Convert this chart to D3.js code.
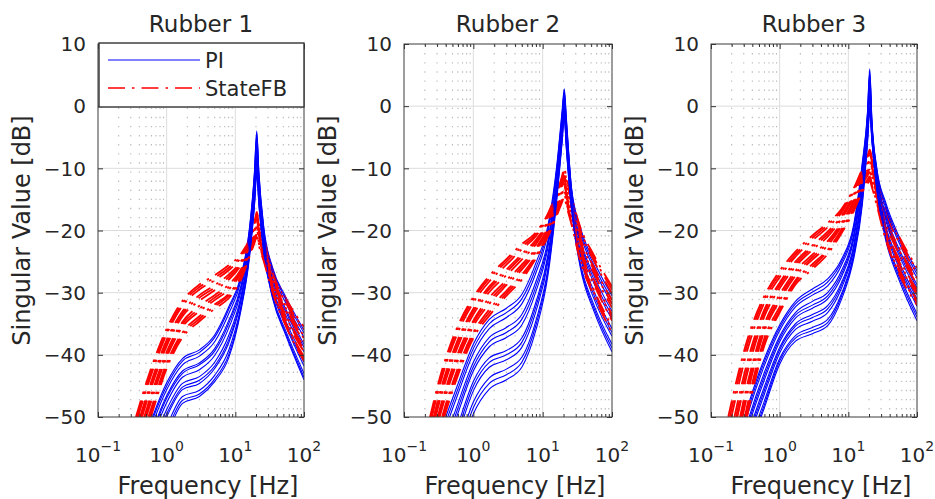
<!DOCTYPE html>
<html>
<head>
<meta charset="utf-8">
<script src="https://cdn.jsdelivr.net/npm/d3@7"></script>
<style>
  body { margin: 0; background: #fff; }
  text { font-family: "DejaVu Sans", sans-serif; fill: #262626; }
</style>
</head>
<body>
<svg id="chart" width="935" height="499"></svg>
<script>
// Frequency samples [Hz] shared by every response curve
const freqHz = [0.1, 0.2, 0.35, 0.6, 1, 1.7, 3, 5, 8, 12, 16, 19, 20.5, 22, 26, 35, 55, 100];

const rubberTitles = ["Rubber 1", "Rubber 2", "Rubber 3"];
const legendLabels = ["PI", "StateFB"];
const xTickExponents = [-1, 0, 1, 2];
const yTickValues = [-50, -40, -30, -20, -10, 0, 10];

// Singular values [dB], one row per operating condition
const rubber1PI = [
  [-80.0, -68.0, -58.5, -50.5, -44.5, -40.6, -39.2, -36.8, -32.3, -27.4, -19.8, -10.5, -4.0, -10.5, -19.5, -26.0, -30.8, -36.0],
  [-80.4, -68.3, -58.9, -50.9, -45.0, -41.0, -39.6, -37.2, -32.7, -27.7, -20.0, -10.8, -4.4, -10.8, -19.8, -26.3, -31.2, -36.5],
  [-81.0, -69.0, -59.5, -51.6, -45.6, -41.6, -40.2, -37.9, -33.4, -28.2, -20.5, -11.4, -5.0, -11.3, -20.2, -26.8, -31.8, -37.2],
  [-82.0, -70.0, -60.6, -52.7, -46.6, -42.6, -41.3, -39.0, -34.5, -29.0, -21.2, -12.3, -6.0, -12.2, -20.9, -27.7, -32.8, -38.3],
  [-82.3, -70.6, -61.0, -53.1, -47.0, -43.0, -41.6, -39.4, -35.0, -29.4, -21.5, -12.6, -6.4, -12.5, -21.1, -28.0, -33.2, -38.8],
  [-82.5, -71.0, -61.6, -53.8, -47.7, -43.6, -42.4, -40.1, -35.7, -29.9, -21.9, -13.1, -7.0, -13.0, -21.5, -28.5, -33.8, -39.5],
  [-83.0, -72.0, -62.6, -54.9, -48.8, -44.6, -43.5, -41.2, -36.9, -30.7, -22.6, -13.9, -8.0, -13.8, -22.1, -29.2, -34.7, -40.6],
  [-83.6, -72.6, -63.3, -55.6, -49.5, -45.2, -44.1, -41.8, -37.6, -31.2, -23.0, -14.4, -8.6, -14.3, -22.4, -29.6, -35.2, -41.2],
  [-84.0, -73.0, -63.7, -56.0, -50.0, -45.6, -44.6, -42.2, -38.1, -31.5, -23.3, -14.7, -9.0, -14.6, -22.7, -29.9, -35.5, -41.8],
  [-84.5, -74.0, -64.8, -57.2, -51.5, -46.7, -45.7, -43.3, -39.3, -32.3, -23.9, -15.4, -10.0, -15.2, -23.2, -30.5, -36.3, -43.0],
  [-84.8, -74.6, -65.5, -58.0, -52.3, -47.3, -46.3, -43.9, -40.0, -32.7, -24.2, -15.7, -10.5, -15.5, -23.4, -30.8, -36.7, -43.6],
  [-85.0, -75.0, -66.0, -58.5, -53.0, -47.8, -46.7, -44.3, -40.5, -33.0, -24.5, -16.0, -11.0, -15.8, -23.6, -31.0, -37.0, -44.0]
];
const rubber1StateFB = [
  [-72.0, -60.0, -50.3, -42.0, -35.8, -31.3, -28.7, -27.2, -25.6, -23.8, -21.4, -18.8, -17.0, -18.6, -21.2, -26.5, -31.0, -35.5],
  [-72.6, -60.5, -50.9, -42.6, -36.3, -31.7, -29.1, -27.6, -26.0, -24.1, -21.6, -19.0, -17.3, -18.8, -21.5, -26.8, -31.4, -35.9],
  [-73.2, -61.0, -51.4, -43.1, -36.7, -32.1, -29.5, -28.0, -26.4, -24.4, -21.9, -19.3, -17.6, -19.1, -21.8, -27.0, -31.7, -36.3],
  [-74.4, -62.0, -52.5, -44.2, -37.6, -33.0, -30.4, -28.8, -27.1, -25.0, -22.3, -19.8, -18.2, -19.7, -22.3, -27.5, -32.3, -37.0],
  [-75.0, -62.5, -53.1, -44.7, -38.1, -33.4, -30.8, -29.2, -27.5, -25.3, -22.5, -20.0, -18.5, -19.9, -22.6, -27.7, -32.6, -37.4],
  [-75.6, -63.0, -53.6, -45.2, -38.6, -33.8, -31.3, -29.6, -27.9, -25.6, -22.7, -20.2, -18.8, -20.2, -22.9, -28.0, -33.0, -37.8],
  [-76.8, -64.0, -54.7, -46.3, -39.5, -34.7, -32.1, -30.4, -28.7, -26.3, -23.1, -20.7, -19.4, -20.8, -23.4, -28.6, -33.7, -38.7],
  [-77.4, -64.5, -55.2, -46.8, -40.0, -35.1, -32.6, -30.8, -29.1, -26.6, -23.3, -20.9, -19.7, -21.0, -23.7, -28.8, -34.0, -39.1],
  [-78.0, -65.0, -55.8, -47.4, -40.4, -35.5, -33.0, -31.2, -29.5, -26.9, -23.6, -21.1, -20.0, -21.3, -24.0, -29.1, -34.4, -39.5],
  [-79.5, -66.0, -56.9, -48.5, -41.3, -36.4, -33.8, -31.9, -30.2, -27.4, -24.0, -21.6, -20.5, -21.9, -24.5, -29.6, -35.0, -40.3],
  [-80.2, -66.5, -57.4, -49.1, -41.7, -36.8, -34.2, -32.2, -30.5, -27.7, -24.1, -21.8, -20.7, -22.1, -24.7, -29.8, -35.2, -40.6],
  [-81.0, -67.0, -58.0, -49.7, -42.2, -37.2, -34.6, -32.6, -30.9, -28.0, -24.3, -22.0, -21.0, -22.4, -25.0, -30.0, -35.5, -41.0]
];
const rubber2PI = [
  [-72.0, -62.0, -52.0, -44.7, -38.3, -34.3, -32.5, -30.3, -25.2, -19.0, -9.5, -1.0, 2.8, -2.0, -13.0, -19.5, -25.0, -30.5],
  [-73.0, -63.0, -52.9, -45.5, -39.0, -35.0, -33.2, -31.0, -26.0, -19.6, -9.9, -1.4, 2.4, -2.4, -13.2, -20.0, -25.6, -31.1],
  [-74.0, -64.0, -53.8, -46.3, -39.8, -35.8, -34.0, -31.8, -26.8, -20.2, -10.4, -1.8, 2.0, -2.8, -13.5, -20.5, -26.2, -31.8],
  [-76.5, -66.0, -55.5, -47.8, -41.2, -37.2, -35.6, -33.5, -28.2, -21.4, -11.3, -2.5, 1.3, -3.5, -14.0, -21.4, -27.3, -33.0],
  [-77.5, -67.0, -56.4, -48.6, -41.9, -37.9, -36.4, -34.3, -29.0, -21.9, -11.7, -2.9, 1.0, -3.8, -14.2, -21.8, -27.9, -33.7],
  [-78.5, -68.0, -57.3, -49.4, -42.6, -38.7, -37.2, -35.2, -29.8, -22.5, -12.1, -3.2, 0.6, -4.2, -14.5, -22.3, -28.5, -34.3],
  [-81.0, -70.0, -59.5, -51.3, -44.3, -40.5, -39.3, -37.3, -31.5, -23.7, -12.8, -4.0, -0.1, -5.0, -15.0, -23.3, -29.8, -35.8],
  [-82.0, -71.0, -60.4, -52.1, -45.0, -41.2, -40.0, -38.0, -32.2, -24.2, -13.1, -4.3, -0.4, -5.3, -15.3, -23.8, -30.4, -36.4],
  [-83.0, -72.0, -61.4, -53.0, -45.8, -42.0, -40.8, -38.8, -33.0, -24.8, -13.5, -4.7, -0.8, -5.7, -15.6, -24.3, -31.0, -37.0],
  [-85.5, -74.5, -63.5, -54.8, -47.6, -43.7, -42.3, -40.4, -34.5, -25.9, -14.3, -5.4, -1.4, -6.4, -16.0, -25.2, -32.0, -38.3],
  [-86.5, -75.5, -64.7, -55.9, -48.5, -44.6, -43.2, -41.2, -35.2, -26.4, -14.6, -5.7, -1.7, -6.7, -16.3, -25.6, -32.5, -38.9],
  [-88.0, -77.0, -66.0, -57.0, -49.5, -45.5, -44.0, -42.0, -36.0, -27.0, -15.0, -6.0, -2.0, -7.0, -16.5, -26.0, -33.0, -39.5]
];
const rubber2StateFB = [
  [-68.0, -53.5, -42.6, -35.3, -30.7, -27.3, -24.6, -22.2, -20.3, -17.2, -13.8, -11.3, -10.0, -11.5, -14.5, -19.5, -24.0, -29.0],
  [-68.7, -54.1, -43.2, -35.8, -31.1, -27.7, -25.0, -22.6, -20.6, -17.4, -14.0, -11.6, -10.3, -11.8, -14.8, -19.9, -24.4, -29.5],
  [-69.5, -54.8, -43.8, -36.4, -31.6, -28.2, -25.5, -23.0, -20.9, -17.7, -14.3, -11.9, -10.6, -12.1, -15.1, -20.3, -24.9, -30.1],
  [-71.0, -56.0, -45.0, -37.5, -32.6, -29.0, -26.3, -23.8, -21.5, -18.3, -14.8, -12.5, -11.2, -12.7, -15.7, -21.2, -25.9, -31.2],
  [-72.0, -56.7, -45.6, -38.0, -33.0, -29.4, -26.7, -24.2, -21.8, -18.5, -15.0, -12.8, -11.5, -13.0, -16.0, -21.6, -26.4, -31.8],
  [-73.0, -57.5, -46.3, -38.6, -33.5, -29.9, -27.2, -24.7, -22.2, -18.8, -15.3, -13.1, -11.8, -13.3, -16.3, -22.0, -26.9, -32.4],
  [-74.5, -58.8, -47.6, -39.7, -34.5, -30.8, -28.0, -25.5, -22.8, -19.4, -15.9, -13.6, -12.5, -13.9, -17.0, -22.8, -27.9, -33.5],
  [-75.2, -59.4, -48.2, -40.3, -34.9, -31.3, -28.4, -25.9, -23.1, -19.6, -16.2, -13.9, -12.8, -14.2, -17.3, -23.2, -28.3, -34.0],
  [-76.0, -60.0, -48.8, -40.9, -35.4, -31.8, -28.8, -26.3, -23.4, -19.9, -16.5, -14.2, -13.2, -14.6, -17.6, -23.6, -28.7, -34.5],
  [-78.0, -61.5, -50.2, -42.1, -36.4, -32.7, -29.7, -27.1, -24.0, -20.4, -17.1, -14.9, -13.9, -15.3, -18.3, -24.3, -29.6, -35.5],
  [-79.0, -62.2, -50.8, -42.7, -36.8, -33.2, -30.1, -27.5, -24.2, -20.6, -17.3, -15.2, -14.2, -15.6, -18.6, -24.6, -30.0, -36.0],
  [-80.0, -63.0, -51.5, -43.3, -37.3, -33.7, -30.5, -27.9, -24.5, -20.9, -17.6, -15.5, -14.6, -16.0, -19.0, -25.0, -30.5, -36.5]
];
const rubber3PI = [
  [-70.0, -57.5, -48.0, -40.6, -35.2, -31.4, -29.4, -27.8, -24.6, -19.0, -9.0, -1.0, 6.0, -2.0, -10.0, -15.5, -21.0, -26.5],
  [-70.8, -58.2, -48.6, -41.1, -35.6, -31.8, -29.9, -28.3, -25.0, -19.4, -9.4, -1.3, 5.5, -2.3, -10.2, -15.9, -21.5, -27.0],
  [-71.5, -59.0, -49.2, -41.7, -36.1, -32.3, -30.4, -28.9, -25.5, -19.8, -9.9, -1.7, 5.0, -2.6, -10.5, -16.4, -22.0, -27.6],
  [-73.0, -60.5, -50.4, -42.8, -37.0, -33.2, -31.4, -30.0, -26.4, -20.6, -10.8, -2.4, 4.0, -3.1, -11.0, -17.3, -23.0, -28.7],
  [-73.8, -61.2, -51.0, -43.4, -37.4, -33.6, -32.0, -30.5, -26.9, -21.0, -11.3, -2.7, 3.5, -3.3, -11.3, -17.8, -23.5, -29.2],
  [-74.5, -62.0, -51.6, -44.0, -37.9, -34.1, -32.5, -31.0, -27.4, -21.4, -11.8, -3.1, 3.0, -3.6, -11.6, -18.3, -24.0, -29.8],
  [-76.0, -63.5, -52.8, -45.1, -38.8, -35.0, -33.5, -32.1, -28.3, -22.3, -12.8, -3.9, 2.0, -4.1, -12.2, -19.2, -25.0, -31.0],
  [-76.8, -64.0, -53.3, -45.7, -39.2, -35.4, -34.0, -32.6, -28.7, -22.7, -13.3, -4.2, 1.5, -4.3, -12.4, -19.6, -25.5, -31.6],
  [-77.5, -64.5, -53.9, -46.3, -39.7, -35.9, -34.6, -33.2, -29.2, -23.1, -13.8, -4.6, 1.0, -4.6, -12.7, -20.1, -26.0, -32.2],
  [-79.0, -66.0, -55.0, -47.4, -40.6, -36.9, -35.6, -34.3, -30.1, -23.8, -14.8, -5.3, 0.0, -5.1, -13.1, -20.8, -27.0, -33.4],
  [-79.5, -66.5, -55.5, -48.0, -41.0, -37.3, -36.1, -34.8, -30.5, -24.1, -15.3, -5.6, -0.5, -5.3, -13.3, -21.1, -27.5, -33.9],
  [-80.0, -67.0, -56.0, -48.5, -41.5, -37.8, -36.6, -35.3, -31.0, -24.5, -15.8, -6.0, -1.0, -5.5, -13.5, -21.5, -28.0, -34.5]
];
const rubber3StateFB = [
  [-64.0, -47.5, -37.0, -30.5, -26.5, -23.4, -20.8, -18.8, -16.5, -13.2, -10.0, -8.0, -7.0, -8.2, -11.5, -16.5, -21.0, -26.0],
  [-65.0, -48.6, -37.8, -31.0, -27.0, -23.8, -21.2, -19.1, -16.8, -13.4, -10.2, -8.3, -7.3, -8.5, -11.8, -16.9, -21.4, -26.4],
  [-66.0, -49.8, -38.7, -31.6, -27.5, -24.2, -21.6, -19.5, -17.1, -13.7, -10.5, -8.6, -7.7, -8.9, -12.1, -17.3, -21.9, -26.9],
  [-68.5, -52.0, -40.5, -32.7, -28.4, -25.0, -22.4, -20.2, -17.6, -14.2, -11.0, -9.2, -8.4, -9.6, -12.7, -18.1, -22.8, -27.7],
  [-69.5, -53.2, -41.4, -33.2, -28.8, -25.4, -22.7, -20.6, -17.8, -14.4, -11.2, -9.5, -8.7, -9.9, -13.0, -18.5, -23.2, -28.1],
  [-70.5, -54.3, -42.3, -33.8, -29.3, -25.8, -23.1, -21.0, -18.1, -14.7, -11.5, -9.9, -9.1, -10.3, -13.3, -18.9, -23.7, -28.6],
  [-72.5, -56.5, -44.0, -35.0, -30.3, -26.5, -23.9, -21.7, -18.7, -15.2, -12.0, -10.5, -9.9, -11.0, -14.0, -19.6, -24.6, -29.5],
  [-73.8, -57.6, -44.8, -35.6, -30.8, -26.9, -24.3, -22.0, -19.0, -15.5, -12.3, -10.8, -10.2, -11.3, -14.3, -19.9, -25.0, -29.9],
  [-75.0, -58.7, -45.7, -36.2, -31.3, -27.3, -24.7, -22.4, -19.3, -15.8, -12.6, -11.2, -10.6, -11.7, -14.7, -20.3, -25.4, -30.3],
  [-77.5, -61.0, -47.3, -37.3, -32.3, -28.0, -25.4, -23.1, -19.8, -16.3, -13.2, -11.8, -11.3, -12.4, -15.3, -20.9, -26.2, -31.2],
  [-78.8, -62.0, -48.1, -37.9, -32.8, -28.3, -25.8, -23.4, -20.1, -16.6, -13.5, -12.1, -11.6, -12.7, -15.6, -21.2, -26.6, -31.6],
  [-80.0, -63.0, -49.0, -38.5, -33.2, -28.7, -26.2, -23.8, -20.4, -16.9, -13.8, -12.5, -12.0, -13.0, -16.0, -21.5, -27.0, -32.0]
];

const panelSeries = [
  [rubber1PI, rubber1StateFB],
  [rubber2PI, rubber2StateFB],
  [rubber3PI, rubber3StateFB]
];

// ---- layout & style ----
const frames = [{ left: 98, right: 304 }, { left: 404, right: 612 }, { left: 711, right: 917 }];
const plotTop = 44, plotBottom = 417;
const colorPI = "#0000ff", colorSFB = "#ff0000";
const dashSFB = [17, 7, 2.5, 7];
const dashPeriod = d3.sum(dashSFB);

const svg = d3.select("#chart");
const defs = svg.append("defs");

const minorFreqs = [];
[-1, 0, 1].forEach(e => { for (let m = 2; m <= 9; m++) minorFreqs.push(m * Math.pow(10, e)); });

frames.forEach((fr, i) => {
  const x = d3.scaleLog().domain([0.1, 100]).range([fr.left, fr.right]);
  const y = d3.scaleLinear().domain([-50, 10]).range([plotBottom, plotTop]);
  const w = fr.right - fr.left, h = plotBottom - plotTop;
  const g = svg.append("g");

  defs.append("clipPath").attr("id", "plot-clip-" + i)
    .append("rect").attr("x", fr.left).attr("y", plotTop).attr("width", w).attr("height", h);

  // grid
  const grid = g.append("g");
  grid.selectAll("line.minor").data(minorFreqs).join("line")
    .attr("class", "minor")
    .attr("x1", d => x(d)).attr("x2", d => x(d))
    .attr("y1", plotTop).attr("y2", plotBottom)
    .attr("stroke", "#b8b8b8").attr("stroke-width", 1.1)
    .attr("stroke-dasharray", "1.4,7.7");
  grid.selectAll("line.majx").data([1, 10]).join("line")
    .attr("x1", d => x(d)).attr("x2", d => x(d))
    .attr("y1", plotTop).attr("y2", plotBottom)
    .attr("stroke", "#dcdcdc").attr("stroke-width", 1);
  grid.selectAll("line.majy").data(yTickValues.filter(v => v > -50 && v < 10)).join("line")
    .attr("x1", fr.left).attr("x2", fr.right)
    .attr("y1", d => y(d)).attr("y2", d => y(d))
    .attr("stroke", "#dcdcdc").attr("stroke-width", 1);

  // response curves
  const line = d3.line()
    .x(d => x(d[0])).y(d => y(d[1]))
    .curve(d3.curveMonotoneX);
  const curves = g.append("g").attr("clip-path", `url(#plot-clip-${i})`);
  const [piRows, sfbRows] = panelSeries[i];
  piRows.forEach((row, k) => {
    curves.append("path")
      .attr("d", line(freqHz.map((f, j) => [f, row[j]])))
      .attr("fill", "none").attr("stroke", colorPI).attr("stroke-width", 1.1);
    const sfb = sfbRows[k];
    const p = curves.append("path")
      .attr("d", line(freqHz.map((f, j) => [f, sfb[j]])))
      .attr("fill", "none").attr("stroke", colorSFB).attr("stroke-width", 1.8)
      .attr("stroke-dasharray", dashSFB.join(","));
    // start the dash pattern where the curve enters the axes
    const node = p.node();
    let lo = 0, hi = node.getTotalLength();
    for (let it = 0; it < 30; it++) {
      const mid = (lo + hi) / 2;
      if (node.getPointAtLength(mid).y > plotBottom) lo = mid; else hi = mid;
    }
    p.attr("stroke-dashoffset", -(hi % dashPeriod));
  });

  // axes (ticks inside the box)
  const tickColor = "#333";
  const styleAxis = sel => {
    sel.select(".domain").remove();
    sel.selectAll(".tick line").attr("stroke", tickColor);
    sel.selectAll(".tick text").remove();
  };
  g.append("g").attr("transform", `translate(0,${plotBottom})`)
    .call(d3.axisBottom(x).tickValues(xTickExponents.map(e => Math.pow(10, e))).tickSize(-5)).call(styleAxis);
  g.append("g").attr("transform", `translate(0,${plotBottom})`)
    .call(d3.axisBottom(x).tickValues(minorFreqs).tickSize(-3)).call(styleAxis);
  g.append("g").attr("transform", `translate(0,${plotTop})`)
    .call(d3.axisTop(x).tickValues(xTickExponents.map(e => Math.pow(10, e))).tickSize(-5)).call(styleAxis);
  g.append("g").attr("transform", `translate(0,${plotTop})`)
    .call(d3.axisTop(x).tickValues(minorFreqs).tickSize(-3)).call(styleAxis);
  g.append("g").attr("transform", `translate(${fr.left},0)`)
    .call(d3.axisLeft(y).tickValues(yTickValues).tickSize(-5)).call(styleAxis);
  g.append("g").attr("transform", `translate(${fr.right},0)`)
    .call(d3.axisRight(y).tickValues(yTickValues).tickSize(-5)).call(styleAxis);

  g.append("rect").attr("x", fr.left).attr("y", plotTop).attr("width", w).attr("height", h)
    .attr("fill", "none").attr("stroke", "#3a3a3a").attr("stroke-width", 1);

  // tick labels
  g.selectAll("text.ylab").data(yTickValues).join("text")
    .attr("x", fr.left - 12).attr("y", d => y(d) + 7.3)
    .attr("text-anchor", "end").attr("font-size", 20)
    .text(d => d < 0 ? "\u2212" + Math.abs(d) : String(d));
  xTickExponents.forEach(e => {
    const t = g.append("text").attr("x", x(Math.pow(10, e))).attr("y", 462)
      .attr("text-anchor", "middle").attr("font-size", 20);
    t.append("tspan").text("10");
    t.append("tspan").attr("font-size", 14).attr("dy", -11)
      .text(e < 0 ? "\u2212" + Math.abs(e) : String(e));
  });

  // titles and axis labels
  const cx = (fr.left + fr.right) / 2;
  g.append("text").attr("x", cx).attr("y", 32).attr("text-anchor", "middle")
    .attr("font-size", 23).text(rubberTitles[i]);
  g.append("text").attr("x", cx + 7).attr("y", 494).attr("text-anchor", "middle")
    .attr("font-size", 24).text("Frequency [Hz]");
  g.append("text")
    .attr("transform", `translate(${fr.left - 68},${(plotTop + plotBottom) / 2}) rotate(-90)`)
    .attr("text-anchor", "middle").attr("font-size", 24).text("Singular Value [dB]");
});

// legend in the first panel
const lg = svg.append("g");
lg.append("rect").attr("x", frames[0].left + 1).attr("y", 43).attr("width", frames[0].right - frames[0].left - 1).attr("height", 64)
  .attr("fill", "#fff").attr("stroke", "#333").attr("stroke-width", 1.4);
[[colorPI, null, 1.2], [colorSFB, dashSFB.join(","), 1.3]].forEach(([c, dash, sw], k) => {
  const yy = 60 + k * 28;
  lg.append("line").attr("x1", 108).attr("x2", 200).attr("y1", yy).attr("y2", yy)
    .attr("stroke", c).attr("stroke-width", sw).attr("stroke-dasharray", dash);
  lg.append("text").attr("x", 205).attr("y", yy + 8).attr("font-size", 21).text(legendLabels[k]);
});
</script>
</body>
</html>
